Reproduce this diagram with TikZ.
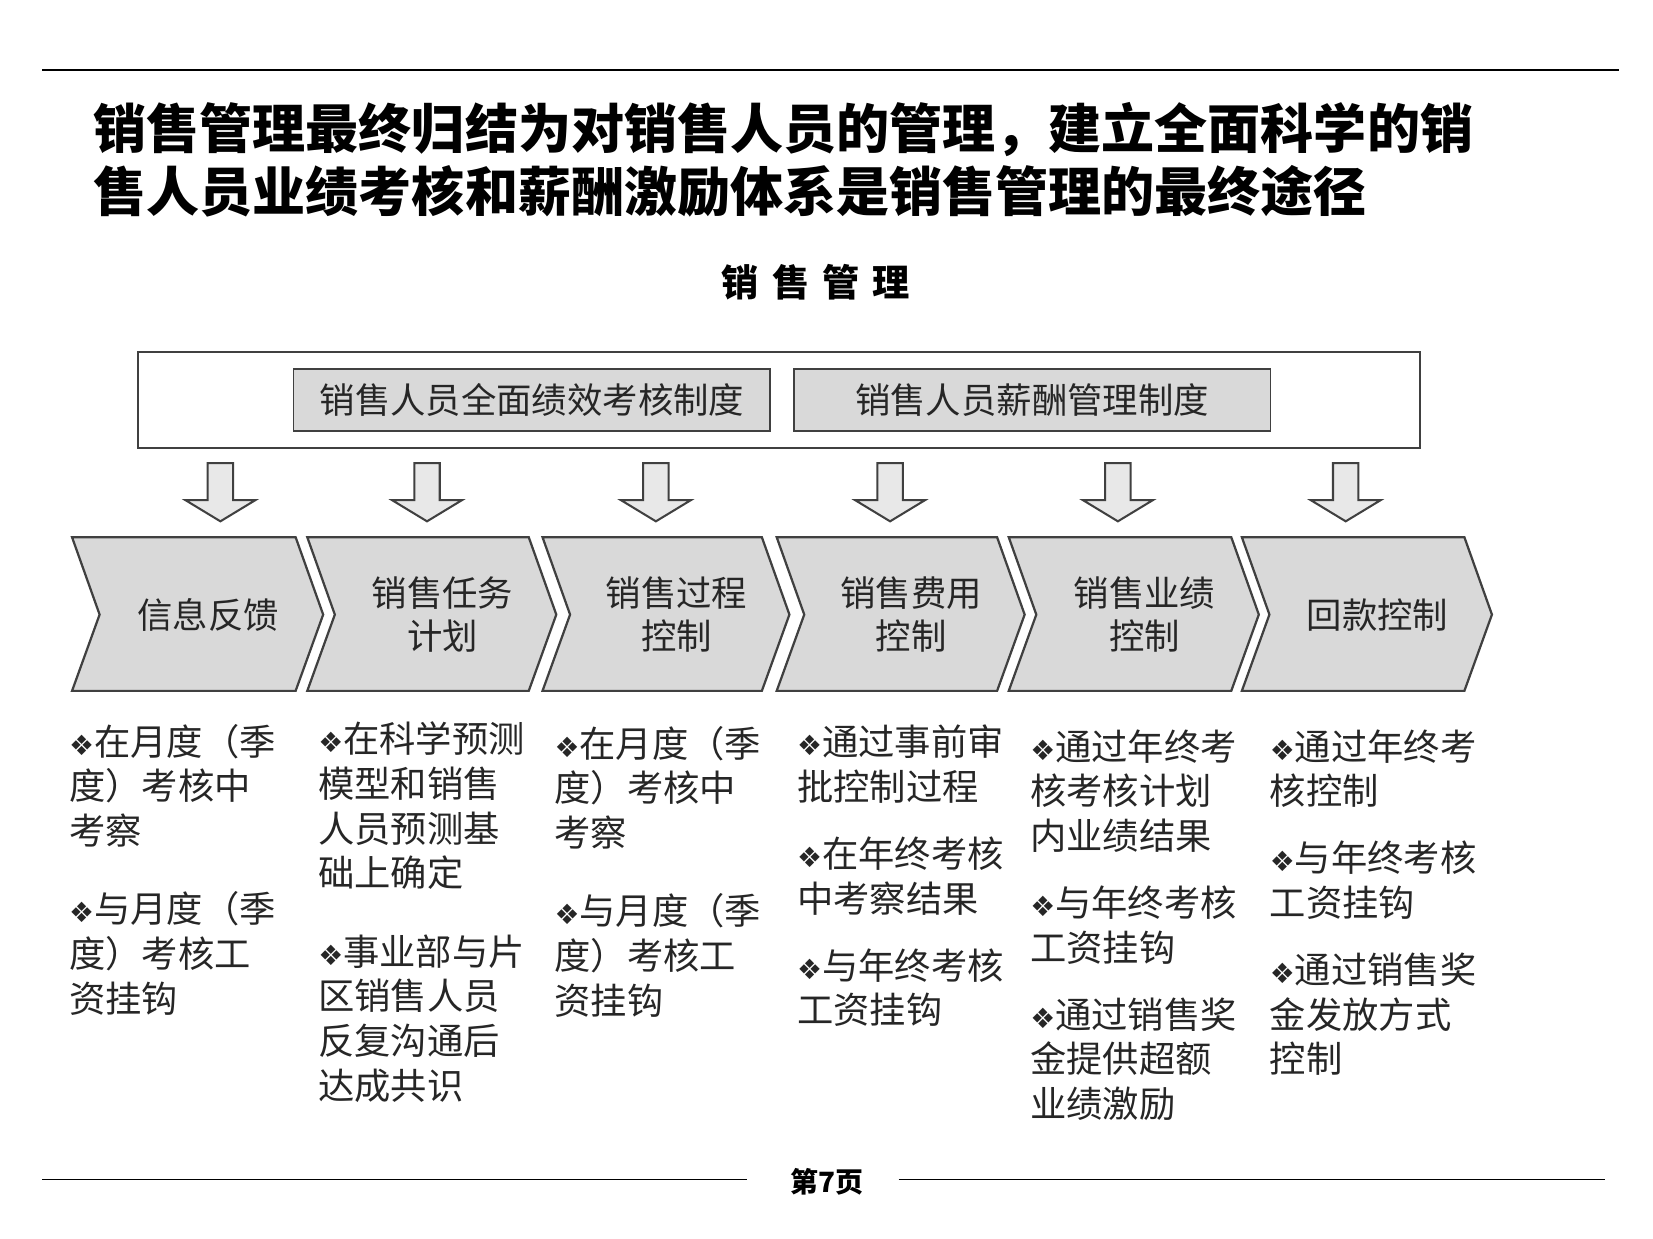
\documentclass[tikz,border=0pt]{standalone}
\usepackage{fontspec}
\setmainfont{Noto Sans CJK SC}
\newfontfamily\symf{DejaVu Sans}
\newcommand{\bul}{{\symf\fontsize{15}{15}\selectfont ❖}}
\definecolor{lg}{HTML}{D9D9D9}
\definecolor{dk}{HTML}{404040}
\begin{document}
\begin{tikzpicture}[x=0.02cm,y=-0.02cm,
  chev/.style={draw=dk,fill=lg,line width=1.2pt},
  dar/.style={draw=dk,fill=lg!60,line width=1.1pt},
  ctext/.style={font=\fontsize{19}{23}\selectfont,align=center,text=black!85},
  body/.style={font=\fontsize{19.5}{24}\selectfont,align=left,anchor=north west,inner sep=0pt,text=black!85}]
\useasboundingbox (0,0) rectangle (1560,1169);
\draw[line width=0.8pt] (40,66) coordinate (t1) -- (1528,66) coordinate (t2);
\node[anchor=north west,inner sep=0pt,font=\fontsize{28.5}{34}\selectfont\bfseries,align=left] (title) at (88,96)
 {销售管理最终归结为对销售人员的管理，建立全面科学的销\\售人员业绩考核和薪酬激励体系是销售管理的最终途径};
\node[font=\fontsize{20}{24}\selectfont\bfseries] (sub) at (770,266) {销\hspace{0.35em}售\hspace{0.35em}管\hspace{0.35em}理};
\node[draw=dk,line width=1pt,minimum width=1210*0.02cm,minimum height=91*0.02cm,inner sep=0pt] (outer) at (735,377.5) {};
\node[draw=dk,fill=lg,line width=1pt,minimum width=450*0.02cm,minimum height=59*0.02cm,ctext] (b1) at (502,377.5) {销售人员全面绩效考核制度};
\node[draw=dk,fill=lg,line width=1pt,minimum width=450*0.02cm,minimum height=59*0.02cm,ctext] (b2) at (974,377.5) {销售人员薪酬管理制度};
\foreach \cx in {208,403,619,840,1055,1270}{
 \draw[dar] (\cx-12,437) -- (\cx+12,437) -- (\cx+12,472) -- (\cx+33,472) -- (\cx,492) -- (\cx-33,472) -- (\cx-12,472) -- cycle;
}
\foreach \L/\R/\n in {68/305/c1,290/525/c2,512/745/c3,733/967/c4,952/1188/c5,1172/1408/c6}{
 \draw[chev] (\L,507) -- (\R-26,507) -- (\R,580) -- (\R-26,652) -- (\L,652) -- (\L+26,580) -- cycle;
 \coordinate (\n) at ({(\L+\R)/2+10},580);
}
\node[ctext] at (c1) {信息反馈};
\node[ctext] at (c2) {销售任务\\计划};
\node[ctext] at (c3) {销售过程\\控制};
\node[ctext] at (c4) {销售费用\\控制};
\node[ctext] at (c5) {销售业绩\\控制};
\node[ctext] at (c6) {回款控制};
\node[body] (t1b) at (65,683) {\bul{}在月度（季\\度）考核中\\考察\\[18pt]\bul{}与月度（季\\度）考核工\\资挂钩};
\node[body] (t2b) at (300,681) {\bul{}在科学预测\\模型和销售\\人员预测基\\础上确定\\[18pt]\bul{}事业部与片\\区销售人员\\反复沟通后\\达成共识};
\node[body] (t3b) at (523,685) {\bul{}在月度（季\\度）考核中\\考察\\[18pt]\bul{}与月度（季\\度）考核工\\资挂钩};
\node[body] (t4b) at (752,684) {\bul{}通过事前审\\批控制过程\\[12pt]\bul{}在年终考核\\中考察结果\\[12pt]\bul{}与年终考核\\工资挂钩};
\node[body] (t5b) at (972,688) {\bul{}通过年终考\\核考核计划\\内业绩结果\\[12pt]\bul{}与年终考核\\工资挂钩\\[12pt]\bul{}通过销售奖\\金提供超额\\业绩激励};
\node[body] (t6b) at (1198,688) {\bul{}通过年终考\\核控制\\[12pt]\bul{}与年终考核\\工资挂钩\\[12pt]\bul{}通过销售奖\\金发放方式\\控制};
\node[font=\fontsize{15}{18}\selectfont\bfseries] (pg) at (780,1115) {第7页};
\draw[line width=0.8pt] (40,1113) -- (705,1113);
\draw[line width=0.8pt] (848,1113) -- (1515,1113);
\end{tikzpicture}
\end{document}
